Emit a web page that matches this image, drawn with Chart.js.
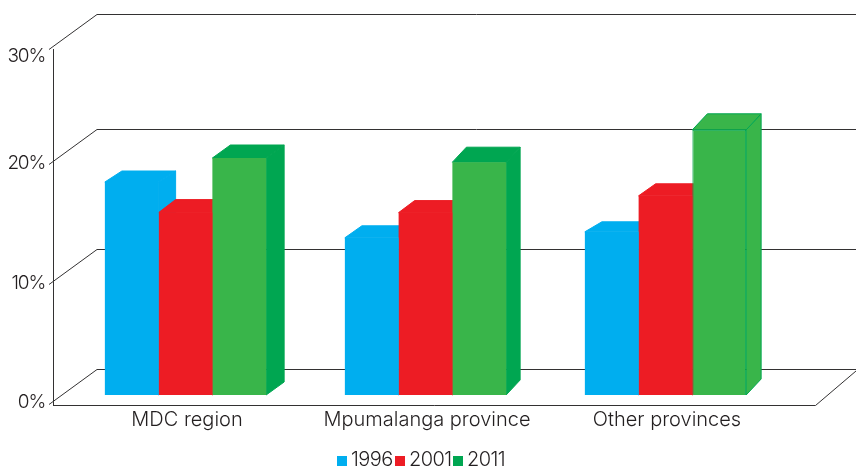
<!DOCTYPE html>
<html>
<head>
<meta charset="utf-8">
<style>
  body { margin: 0; background: #fff; overflow: hidden; }
  #wrap { position: relative; width: 856px; height: 467px; font-family: Inter, sans-serif; font-weight: 300; color: #231f20; }
  #legend { position: absolute; left: 337px; top: 448px; display: flex; font-size: 20px; letter-spacing: -0.6px; line-height: 22px; }
  #legend span { display: inline-block; }
  #legend .box { width: 10px; height: 10px; margin: 8px 4px 0 0; }
  #legend .txt { width: 44px; }
</style>
<script src="https://cdn.jsdelivr.net/npm/chart.js@4"></script>
</head>
<body>
<div id="wrap">
  <canvas id="chart" width="856" height="467"></canvas>
  <div id="legend"></div>
</div>
<script>
const categories = ['MDC region', 'Mpumalanga province', 'Other provinces'];
const years = ['1996', '2001', '2011'];
const values1996 = [17.75, 13.1, 13.6];
const values2001 = [15.2, 15.2, 16.6];
const values2011 = [19.75, 19.4, 22.1];
const yTicks = [0, 10, 20, 30];

const blue = '#00aeef', red = '#ed1c24', green = '#39b54a', darkGreen = '#00a651';
const lineColor = '#333132';
const fontName = 'Inter, sans-serif';

// depth of the fake 3d faces, per dataset then per category
const depthX = [[17, 17, 17], [17, 16, 17], [18, 14, 15]];
const depthY = [[11, 12, 10], [13, 12, 12], [13, 15, 16]];
const sideColors = [[blue, blue, blue], [red, red, red], [darkGreen, darkGreen, green]];

// the wall sits behind the front plane, 30% line of the wall is a bit lower in the original
const wallLeft = 97, axisLeft = 53, tickLeft = 49, wallDy = -26, tickDy = 35, floorFront = 405;
const wallNudge = { 30: 5 };
const labelNudge = { 0: 7, 10: 8, 20: 8, 30: 21 };

function poly(ctx, pts, fill, stroke) {
  ctx.beginPath();
  pts.forEach((p, i) => i ? ctx.lineTo(p[0], p[1]) : ctx.moveTo(p[0], p[1]));
  ctx.closePath();
  ctx.fillStyle = fill;
  ctx.fill();
  ctx.strokeStyle = stroke;
  ctx.lineWidth = 1;
  ctx.stroke();
}

function seg(ctx, x1, y1, x2, y2) {
  ctx.beginPath();
  ctx.moveTo(x1, y1);
  ctx.lineTo(x2, y2);
  ctx.stroke();
}

const wallPlugin = {
  id: 'wall',
  beforeDatasetsDraw(chart) {
    const ctx = chart.ctx;
    const y = chart.scales.y;
    const area = chart.chartArea;
    ctx.save();
    ctx.strokeStyle = lineColor;
    ctx.lineWidth = 1;

    yTicks.forEach(v => {
      const back = Math.round(y.getPixelForValue(v) + wallDy + (wallNudge[v] || 0)) + 0.5;
      seg(ctx, tickLeft, back + tickDy, wallLeft, back);
      seg(ctx, wallLeft, back, chart.width, back);
      ctx.fillStyle = '#231f20';
      ctx.font = '300 19px ' + fontName;
      ctx.letterSpacing = '-1.2px';
      ctx.textAlign = 'right';
      ctx.textBaseline = 'middle';
      ctx.fillText(v + '%', 45, y.getPixelForValue(v) + labelNudge[v]);
      ctx.letterSpacing = '0px';
    });

    // front floor edge and left axis
    const top = y.getPixelForValue(30) + wallDy + wallNudge[30] + tickDy;
    seg(ctx, axisLeft + 0.5, top, axisLeft + 0.5, floorFront);
    seg(ctx, axisLeft, floorFront + 0.5, area.right + 30, floorFront + 0.5);
    seg(ctx, area.right + 30, floorFront + 0.5, chart.width, floorFront - 34);

    // top and side faces of the bars, the fronts are the real bars
    chart.data.datasets.forEach((ds, d) => {
      chart.getDatasetMeta(d).data.forEach((bar, c) => {
        const l = bar.x - bar.width / 2, r = bar.x + bar.width / 2;
        const dx = depthX[d][c], dy = depthY[d][c];
        const stroke = sideColors[d][c] === green ? darkGreen : sideColors[d][c];
        poly(ctx, [[r, bar.y], [r + dx, bar.y - dy], [r + dx, bar.base - dy], [r, bar.base]], sideColors[d][c], stroke);
        poly(ctx, [[l, bar.y], [l + dx, bar.y - dy], [r + dx, bar.y - dy], [r, bar.y]], sideColors[d][c], stroke);
      });
    });
    ctx.restore();
  }
};

new Chart(document.getElementById('chart'), {
  type: 'bar',
  data: {
    labels: categories,
    datasets: [
      { label: years[0], data: values1996, backgroundColor: blue },
      { label: years[1], data: values2001, backgroundColor: red },
      { label: years[2], data: values2011, backgroundColor: green, borderColor: darkGreen, borderWidth: [0, 0, 1] }
    ]
  },
  options: {
    responsive: false,
    animation: false,
    layout: { padding: { top: 35, right: 70.5, bottom: 0, left: 0 } },
    datasets: { bar: { barPercentage: 1, categoryPercentage: 0.672 } },
    plugins: { legend: { display: false }, tooltip: { enabled: false } },
    scales: {
      x: {
        grid: { display: false },
        border: { display: false },
        ticks: { color: '#231f20', font: { family: fontName, size: 20, weight: '300' }, padding: 5, maxRotation: 0, labelOffset: 1.5 },
        afterFit(scale) { scale.height = 72; }
      },
      y: {
        min: 0,
        max: 30,
        afterBuildTicks(scale) { scale.ticks = yTicks.map(v => ({ value: v })); },
        grid: { display: false },
        border: { display: false },
        ticks: { display: false },
        afterFit(scale) { scale.width = 65.5; }
      }
    }
  },
  plugins: [wallPlugin]
});

const legendColors = [blue, red, darkGreen];
const legend = document.getElementById('legend');
years.forEach((year, i) => {
  legend.innerHTML += '<span class="box" style="background:' + legendColors[i] + '"></span><span class="txt">' + year + '</span>';
});
</script>
</body>
</html>
